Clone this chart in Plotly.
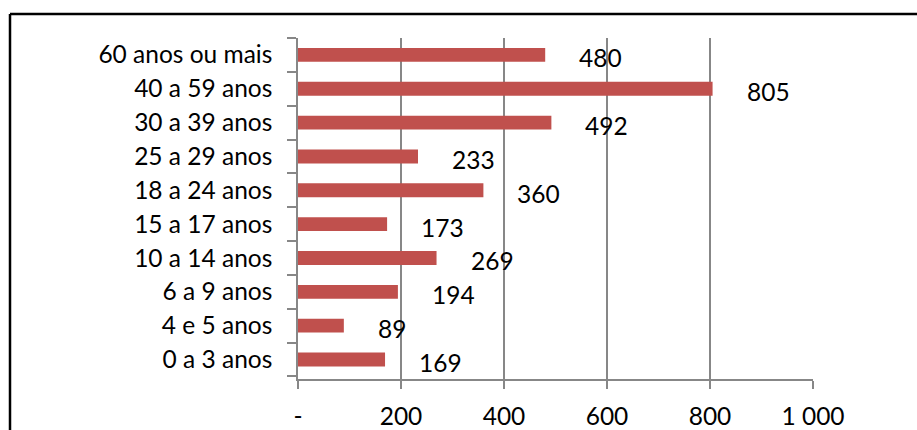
import plotly.graph_objects as go

categories = ["0 a 3 anos", "4 e 5 anos", "6 a 9 anos", "10 a 14 anos", "15 a 17 anos",
              "18 a 24 anos", "25 a 29 anos", "30 a 39 anos", "40 a 59 anos", "60 anos ou mais"]
values = [169, 89, 194, 269, 173, 360, 233, 492, 805, 480]
x_tickvals = [0, 200, 400, 600, 800, 1000]
x_ticktext = ["-", "200", "400", "600", "800", "1 000"]

FONT = "Lato"
FS = 24.5
BAR = "#C0504D"
GRID = "#878787"

fig = go.Figure()
fig.add_trace(go.Bar(
    y=categories, x=values, orientation="h",
    marker=dict(color=BAR, line=dict(width=0)),
    hoverinfo="skip",
))

for c, v in zip(categories, values):
    fig.add_annotation(x=v, y=c, xref="x", yref="y", text=str(v), showarrow=False,
                       xanchor="left", yanchor="middle", xshift=32, yshift=-3,
                       font=dict(family=FONT, size=FS, color="black"))

# outer frame
fig.add_shape(type="line", xref="paper", yref="paper",
              x0=(10 - 298) / 515, x1=(930 - 298) / 515,
              y0=(379 - 14) / 341, y1=(379 - 14) / 341,
              line=dict(color="black", width=2.5))
fig.add_shape(type="line", xref="paper", yref="paper",
              x0=(10 - 298) / 515, x1=(10 - 298) / 515,
              y0=(379 - 14) / 341, y1=(379 - 450) / 341,
              line=dict(color="black", width=2.5))

fig.update_layout(
    width=917, height=430,
    margin=dict(l=298, r=104, t=38, b=51),
    paper_bgcolor="white", plot_bgcolor="white",
    bargap=0.59,
    showlegend=False,
    font=dict(family=FONT, size=FS, color="black"),
    xaxis=dict(
        range=[0, 1000], tickvals=x_tickvals, ticktext=x_ticktext,
        showgrid=True, gridcolor=GRID, gridwidth=1.5,
        showline=True, linecolor=GRID, linewidth=1.5,
        ticks="outside", ticklen=8, tickcolor=GRID, tickwidth=1.5,
        ticklabelstandoff=7, zeroline=False, fixedrange=True, automargin=False,
        tickfont=dict(family=FONT, size=FS, color="black"),
    ),
    yaxis=dict(
        type="category", categoryorder="array", categoryarray=categories,
        showline=True, linecolor=GRID, linewidth=1.5,
        ticks="outside", ticklen=9, tickcolor=GRID, tickwidth=1.5,
        tickson="boundaries", showgrid=False, ticklabelstandoff=19,
        fixedrange=True, automargin=False,
        tickfont=dict(family=FONT, size=FS, color="black"),
    ),
)

fig.write_html("out.html")
